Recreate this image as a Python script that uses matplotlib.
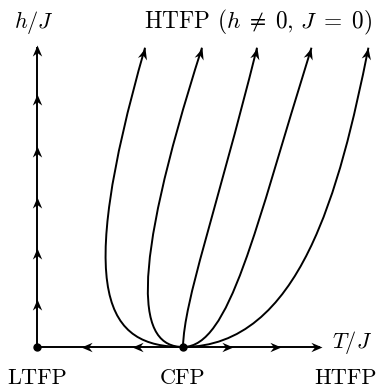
import numpy as np
import matplotlib
matplotlib.use("Agg")
from matplotlib import pyplot as plt
from matplotlib.path import Path
from matplotlib.patches import PathPatch
from matplotlib.markers import MarkerStyle
from matplotlib.transforms import Affine2D

plt.rcParams["mathtext.fontset"] = "cm"
plt.rcParams["font.family"] = "serif"
plt.rcParams["font.serif"] = ["cmr10", "DejaVu Serif"]
plt.rcParams["axes.formatter.use_mathtext"] = True

# fixed points (T/J, h/J)
ltfp = (0.0, 0.0)
cfp = (1.0, 0.0)

# axis ends
t_end = 1.95
h_end = 2.07

# arrow tips along the axes
h_arrows = [0.33, 0.68, 1.03, 1.38, 1.73]
t_left_arrows = [0.30, 0.65]
t_right_arrows = [1.34, 1.67]

# flow lines from CFP: cubic bezier control points (P1, P2, end)
flow_p1 = [(0.48, 0.0), (0.70, 0.0), (1.007, 0.32), (1.322, 0.0), (1.80, 0.0)]
flow_p2 = [(0.25, 0.34), (0.615, 0.44), (1.22, 0.90), (1.49, 0.80), (2.075, 1.075)]
flow_end = [(0.74, 2.05), (1.13, 2.05), (1.507, 2.05), (1.88, 2.05), (2.27, 2.05)]

LW = 1.4
HEAD = 16

# stealth-like head, tip at origin pointing +x
head_path = Path([(0, 0), (-2, 0.85), (-1.35, 0), (-2, -0.85), (0, 0)],
                 [Path.MOVETO, Path.LINETO, Path.LINETO, Path.LINETO, Path.CLOSEPOLY])


def head(ax, x, y, ang):
    m = MarkerStyle(head_path, transform=Affine2D().rotate_deg(ang))
    ax.plot([x], [y], marker=m, ms=HEAD, color="black", mew=0, zorder=5)


fig = plt.figure(figsize=(3.77, 3.92), dpi=100)
ax = fig.add_axes([0, 0, 1, 1])
ax.set_xlim(-37 / 146, 340 / 146)
ax.set_ylim(-45 / 146, 347 / 146)
ax.set_aspect("equal")
ax.axis("off")

# axes
ax.plot([ltfp[0], t_end - 0.02], [0, 0], color="black", lw=LW)
ax.plot([0, 0], [0, h_end - 0.02], color="black", lw=LW)
head(ax, t_end, 0, 0)
head(ax, 0, h_end, 90)
for h in h_arrows:
    head(ax, 0, h, 90)
for t in t_left_arrows:
    head(ax, t, 0, 180)
for t in t_right_arrows:
    head(ax, t, 0, 0)

# flow lines
for p1, p2, pe in zip(flow_p1, flow_p2, flow_end):
    path = Path([cfp, p1, p2, pe], [Path.MOVETO, Path.CURVE4, Path.CURVE4, Path.CURVE4])
    ax.add_patch(PathPatch(path, fill=False, lw=LW, color="black"))
    ang = np.degrees(np.arctan2(pe[1] - p2[1], pe[0] - p2[0]))
    head(ax, pe[0], pe[1], ang)

# fixed point dots
ax.plot([ltfp[0], cfp[0]], [ltfp[1], cfp[1]], "o", color="black", ms=5, zorder=6)

fs = 16
ax.text(0.0, -0.253, "LTFP", ha="center", va="baseline", fontsize=fs)
ax.text(1.0, -0.253, "CFP", ha="center", va="baseline", fontsize=fs)
ax.text(2.11, -0.253, "HTFP", ha="center", va="baseline", fontsize=fs)
ax.text(2.16, -0.01, "$T/J$", ha="center", va="baseline", fontsize=fs)
ax.text(-0.02, 2.185, "$h/J$", ha="center", va="baseline", fontsize=fs)
ax.text(1.514, 2.185, "HTFP $(h\\;\\neq\\;0,\\,J\\;=\\;0)$", ha="center", va="baseline", fontsize=16.8)

fig.savefig("out.png", dpi=100)
